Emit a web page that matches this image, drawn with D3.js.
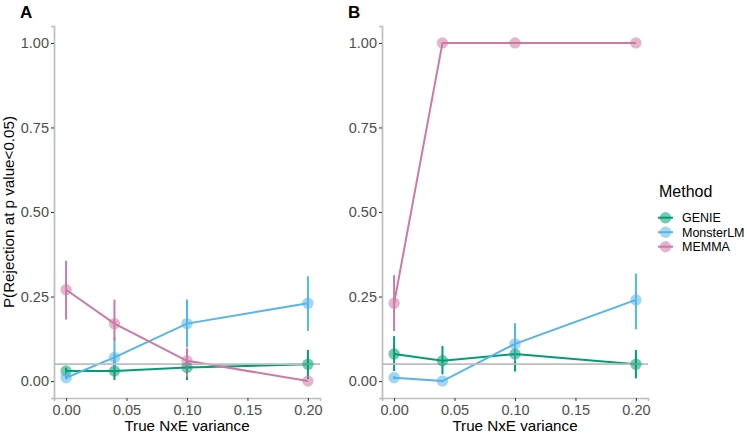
<!DOCTYPE html>
<html>
<head>
<meta charset="utf-8">
<script src="https://cdn.jsdelivr.net/npm/d3@7"></script>
<style>
  body { margin: 0; background: #fff; }
  svg { display: block; font-family: "Liberation Sans", Arial, Helvetica, sans-serif; }
</style>
</head>
<body>
<svg id="chart" width="747" height="434"></svg>
<script>
// ---- data ----
const xValues = [0, 0.04, 0.10, 0.20];
const methods = ["GENIE", "MonsterLM", "MEMMA"];
const methodColors = ["#009E73", "#56B4E9", "#CC79A7"];
const xTicks = [0, 0.05, 0.10, 0.15, 0.20];
const yTicks = [0, 0.25, 0.5, 0.75, 1.0];
const panelLabels = ["A", "B"];
const threshold = 0.05;

// Panel A
const genieA     = [0.03, 0.03, 0.04, 0.05];
const genieA_lo  = [0.02, 0.003, 0.003, 0.006];
const genieA_hi  = [0.04, 0.08, 0.09, 0.092];
const monsterA    = [0.01, 0.07, 0.17, 0.23];
const monsterA_lo = [0.005, 0.03, 0.10, 0.148];
const monsterA_hi = [0.015, 0.13, 0.241, 0.31];
const memmaA     = [0.27, 0.17, 0.06, 0.00];
const memmaA_lo  = [0.182, 0.12, 0.013, 0.0];
const memmaA_hi  = [0.356, 0.241, 0.097, 0.0];

// Panel B
const genieB     = [0.08, 0.06, 0.08, 0.05];
const genieB_lo  = [0.03, 0.02, 0.028, 0.008];
const genieB_hi  = [0.133, 0.104, 0.12, 0.092];
const monsterB    = [0.01, 0.00, 0.11, 0.24];
const monsterB_lo = [0.005, 0.0, 0.06, 0.153];
const monsterB_hi = [0.015, 0.0, 0.171, 0.318];
const memmaB     = [0.23, 1.00, 1.00, 1.00];
const memmaB_lo  = [0.148, 1.0, 1.0, 1.0];
const memmaB_hi  = [0.313, 1.0, 1.0, 1.0];

const panelsData = [
  [ [genieA, genieA_lo, genieA_hi], [monsterA, monsterA_lo, monsterA_hi], [memmaA, memmaA_lo, memmaA_hi] ],
  [ [genieB, genieB_lo, genieB_hi], [monsterB, monsterB_lo, monsterB_hi], [memmaB, memmaB_lo, memmaB_hi] ]
];

// ---- layout ----
const svg = d3.select("#chart");
const panelX = [[54, 320], [382, 648]];
const panelTop = 26, panelBottom = 398;
const axisColor = "#bdbdbd";
const tickTextColor = "#4D4D4D";
const pointR = 5.7;

const y = d3.scaleLinear().domain([-0.05, 1.05]).range([panelBottom, panelTop]);

panelsData.forEach((series, pi) => {
  const x = d3.scaleLinear().domain([-0.01, 0.21]).range(panelX[pi]);
  const g = svg.append("g");

  // panel label
  g.append("text")
    .attr("x", panelX[pi][0] - 34)
    .attr("y", 17.5)
    .attr("font-size", 17)
    .attr("font-weight", "bold")
    .attr("fill", "#000")
    .text(panelLabels[pi]);

  // axes
  const yAxis = d3.axisLeft(y).tickValues(yTicks).tickFormat(d3.format(".2f"))
    .tickSizeOuter(0).tickSize(3).tickPadding(2);
  const ya = g.append("g").attr("transform", `translate(${panelX[pi][0]},0)`).call(yAxis);
  const xAxis = d3.axisBottom(x).tickValues(xTicks).tickFormat(d3.format(".2f"))
    .tickSizeOuter(0).tickSize(3).tickPadding(3.5);
  const xa = g.append("g").attr("transform", `translate(0,${panelBottom})`).call(xAxis);
  [ya, xa].forEach(a => {
    a.select(".domain").attr("stroke", axisColor).attr("stroke-width", 1.7);
    a.selectAll(".tick line").attr("stroke", "#333").attr("stroke-width", 1);
    a.selectAll(".tick text").attr("fill", tickTextColor).attr("font-size", 14.5)
      .attr("font-family", "Liberation Sans, Arial, sans-serif");
  });

  // x axis title
  g.append("text")
    .attr("x", (panelX[pi][0] + panelX[pi][1]) / 2)
    .attr("y", 431)
    .attr("text-anchor", "middle")
    .attr("font-size", 15.2)
    .attr("fill", "#000")
    .text("True NxE variance");

  const line = d3.line().x((d, i) => x(xValues[i])).y(d => y(d));

  // lines
  series.forEach((s, si) => {
    g.append("path").datum(s[0])
      .attr("d", line)
      .attr("fill", "none")
      .attr("stroke", methodColors[si])
      .attr("stroke-width", 2);
  });
  // error bars
  series.forEach((s, si) => {
    g.selectAll(null).data(xValues).enter().append("line")
      .attr("x1", d => x(d)).attr("x2", d => x(d))
      .attr("y1", (d, i) => y(s[1][i]))
      .attr("y2", (d, i) => y(s[2][i]))
      .attr("stroke", methodColors[si])
      .attr("stroke-width", 2);
  });
  // threshold line
  g.append("line")
    .attr("x1", panelX[pi][0]).attr("x2", panelX[pi][1])
    .attr("y1", y(threshold)).attr("y2", y(threshold))
    .attr("stroke", "#bdbdbd").attr("stroke-width", 1.7);
  // points
  series.forEach((s, si) => {
    g.selectAll(null).data(s[0]).enter().append("circle")
      .attr("cx", (d, i) => x(xValues[i]))
      .attr("cy", d => y(d))
      .attr("r", pointR)
      .attr("fill", methodColors[si])
      .attr("fill-opacity", 0.55);
  });
});

// y axis title
svg.append("text")
  .attr("transform", `translate(14,${(panelTop + panelBottom) / 2}) rotate(-90)`)
  .attr("text-anchor", "middle")
  .attr("font-size", 15.2)
  .attr("fill", "#000")
  .text("P(Rejection at p value<0.05)");

// legend
const lg = svg.append("g");
lg.append("text").attr("x", 659).attr("y", 197).attr("font-size", 16).attr("fill", "#000").text("Method");
const legendY = [217.7, 232.2, 246.7];
methods.forEach((m, i) => {
  lg.append("line")
    .attr("x1", 658).attr("x2", 673)
    .attr("y1", legendY[i]).attr("y2", legendY[i])
    .attr("stroke", methodColors[i]).attr("stroke-width", 2);
  lg.append("circle")
    .attr("cx", 665.5).attr("cy", legendY[i]).attr("r", pointR)
    .attr("fill", methodColors[i]).attr("fill-opacity", 0.55);
  lg.append("text")
    .attr("x", 682).attr("y", legendY[i]).attr("dy", "0.36em")
    .attr("font-size", 12.5).attr("fill", "#000").text(m);
});
</script>
</body>
</html>
